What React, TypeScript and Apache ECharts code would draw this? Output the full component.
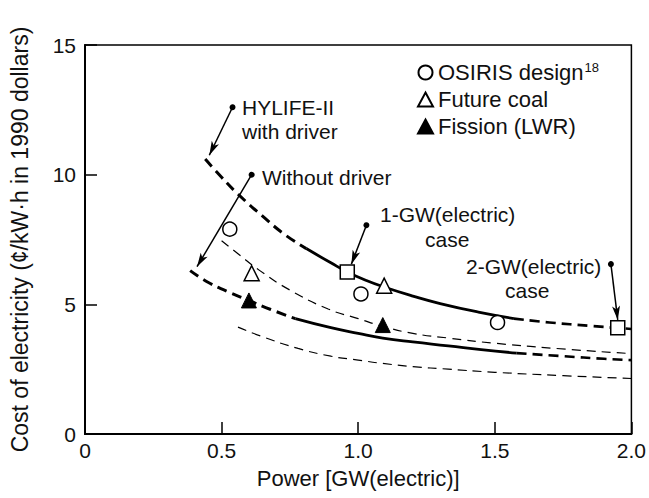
import React, { useEffect, useRef } from 'react';
import * as echarts from 'echarts';

const FONT = '"Liberation Sans", Arial, Helvetica, sans-serif';

// Axis ticks
const xTickLabels = ['0', '0.5', '1.0', '1.5', '2.0'];
const yTickLabels = ['0', '5', '10', '15'];

// HYLIFE-II with driver (upper bold curve)
const withDriverDashLeft = [[0.44, 10.6], [0.5, 9.9], [0.56, 9.25], [0.65, 8.4], [0.73, 7.7], [0.81, 7.15]];
const withDriverSolid = [[0.81, 7.15], [0.9, 6.6], [0.96, 6.25], [1.03, 5.92], [1.1, 5.65], [1.2, 5.32], [1.3, 5.03], [1.44, 4.7], [1.57, 4.45]];
const withDriverDashRight = [[1.57, 4.45], [1.7, 4.3], [1.85, 4.17], [2.0, 4.05]];

// HYLIFE-II without driver (lower bold curve)
const noDriverDashLeft = [[0.385, 6.3], [0.45, 5.85], [0.52, 5.5], [0.6, 5.15], [0.68, 4.8], [0.77, 4.45]];
const noDriverSolid = [[0.77, 4.45], [0.9, 4.1], [1.0, 3.88], [1.09, 3.7], [1.2, 3.55], [1.33, 3.4], [1.45, 3.25], [1.58, 3.12]];
const noDriverDashRight = [[1.58, 3.12], [1.75, 3.0], [1.9, 2.9], [2.0, 2.85]];

// Thin dashed curves
const thinUpper = [[0.5, 7.45], [0.56, 6.95], [0.64, 6.3], [0.75, 5.55], [0.89, 4.82], [1.0, 4.45], [1.09, 4.15], [1.2, 3.88], [1.33, 3.7], [1.5, 3.5], [1.76, 3.27], [2.0, 3.1]];
const thinLower = [[0.56, 4.12], [0.65, 3.75], [0.78, 3.3], [0.9, 3.0], [1.0, 2.85], [1.09, 2.72], [1.2, 2.6], [1.33, 2.5], [1.5, 2.38], [1.75, 2.25], [2.0, 2.14]];

// Marker points
const osirisPoints = [[0.53, 7.9], [1.01, 5.4], [1.51, 4.3]];
const futureCoalPoints = [[0.61, 6.2], [1.095, 5.72]];
const fissionPoints = [[0.6, 5.15], [1.09, 4.2]];
const casePoints = [[0.96, 6.25], [1.95, 4.1]];

// Annotation arrows: [from dot, to arrow tip]
const arrowHylife = [[0.54, 12.6], [0.455, 10.75]];
const arrowNoDriver = [[0.61, 10.0], [0.41, 6.45]];
const arrow1GW = [[1.03, 8.05], [0.975, 6.55]];
const arrow2GW = [[1.925, 6.55], [1.95, 4.4]];

const seriesNames = ['OSIRIS design', 'Future coal', 'Fission (LWR)'];

export default function App() {
  const ref = useRef<HTMLDivElement>(null);
  useEffect(() => {
    if (!ref.current) return;
    document.body.style.margin = '0';
    const chart = echarts.init(ref.current, null, { renderer: 'svg' });
    const bold = (data: number[][], dashed: boolean, width = 2.8) => ({
      type: 'line',
      data,
      smooth: true,
      symbol: 'none',
      silent: true,
      lineStyle: { color: '#000', width, type: dashed ? [10, 6] : 'solid' },
      z: 3,
    });
    const thin = (data: number[][]) => ({
      type: 'line',
      data,
      smooth: true,
      symbol: 'none',
      silent: true,
      lineStyle: { color: '#000', width: 1.2, type: [9, 6] },
      z: 3,
    });
    const openStyle = { color: '#fff', borderColor: '#000', borderWidth: 1.5, opacity: 1 };
    const arrowItem = (a: number[][]) => [{ coord: a[0] }, { coord: a[1] }];
    const text = (t: string, x: number, y: number) => ({
      type: 'text',
      x,
      y,
      silent: true,
      style: {
        text: t,
        fontSize: 21,
        fontFamily: FONT,
        fill: '#111',
        verticalAlign: 'middle',
        textVerticalAlign: 'middle',
      },
    });
    chart.setOption({
      animation: false,
      backgroundColor: '#fff',
      grid: {
        left: 80,
        right: 13,
        top: 45,
        bottom: 64,
        show: true,
        borderColor: '#000',
        borderWidth: 1.5,
      },
      legend: {
        data: seriesNames,
        orient: 'vertical',
        left: 412,
        top: 56,
        itemGap: 5,
        itemWidth: 15,
        itemHeight: 14,
        selectedMode: false,
        formatter: (n: string) => (n === 'OSIRIS design' ? 'OSIRIS design{sup|18}' : n),
        textStyle: {
          fontSize: 22,
          fontFamily: FONT,
          color: '#111',
          rich: { sup: { fontSize: 13, fontFamily: FONT, color: '#111', padding: [0, 0, 10, 1] } },
        },
      },
      xAxis: {
        type: 'value',
        min: 0,
        max: 2,
        interval: 0.5,
        name: 'Power [GW(electric)]',
        nameLocation: 'middle',
        nameGap: 33,
        nameTextStyle: { fontSize: 22, fontFamily: FONT, color: '#111' },
        axisLine: { lineStyle: { color: '#000', width: 2 } },
        axisTick: { inside: true, length: 12, lineStyle: { color: '#000', width: 1.5 } },
        axisLabel: {
          fontSize: 21,
          fontFamily: FONT,
          color: '#111',
          margin: 6,
          formatter: (v: number) => xTickLabels[Math.round(v / 0.5)],
        },
        splitLine: { show: false },
      },
      yAxis: {
        type: 'value',
        min: 0,
        max: 15,
        interval: 5,
        name: 'Cost of electricity (¢/kW·h in 1990 dollars)',
        nameLocation: 'middle',
        nameGap: 54,
        nameRotate: 90,
        nameTextStyle: { fontSize: 23, fontFamily: FONT, color: '#111' },
        axisLine: { show: true, lineStyle: { color: '#000', width: 2 } },
        axisTick: { inside: true, length: 12, lineStyle: { color: '#000', width: 1.5 } },
        axisLabel: {
          fontSize: 21,
          fontFamily: FONT,
          color: '#111',
          margin: 9,
          formatter: (v: number) => yTickLabels[Math.round(v / 5)],
        },
        splitLine: { show: false },
      },
      series: [
        bold(withDriverDashLeft, true, 3),
        bold(withDriverSolid, false, 2.8),
        bold(withDriverDashRight, true, 2.6),
        bold(noDriverDashLeft, true, 3),
        bold(noDriverSolid, false, 2.8),
        bold(noDriverDashRight, true, 2.6),
        thin(thinUpper),
        thin(thinLower),
        {
          name: 'OSIRIS design',
          type: 'scatter',
          data: osirisPoints,
          symbol: 'circle',
          symbolSize: 14,
          itemStyle: openStyle,
          z: 5,
        },
        {
          name: 'Future coal',
          type: 'scatter',
          data: futureCoalPoints,
          symbol: 'triangle',
          symbolSize: 15,
          itemStyle: openStyle,
          z: 5,
        },
        {
          name: 'Fission (LWR)',
          type: 'scatter',
          data: fissionPoints,
          symbol: 'triangle',
          symbolSize: 15,
          itemStyle: { color: '#000', borderColor: '#000', borderWidth: 1, opacity: 1 },
          z: 5,
        },
        {
          name: 'cases',
          type: 'scatter',
          data: casePoints,
          symbol: 'rect',
          symbolSize: 14,
          itemStyle: openStyle,
          z: 5,
        },
        {
          name: 'arrows',
          type: 'line',
          data: [],
          markLine: {
            silent: true,
            symbol: ['circle', 'arrow'],
            symbolSize: [6, 14],
            label: { show: false },
            lineStyle: { color: '#000', width: 1.5, type: 'solid', opacity: 1 },
            data: [arrowItem(arrowHylife), arrowItem(arrowNoDriver), arrowItem(arrow1GW), arrowItem(arrow2GW)],
          },
        },
      ],
      graphic: [
        text('HYLIFE-II', 242, 107),
        text('with driver', 242, 131),
        text('Without driver', 262, 177),
        text('1-GW(electric)', 380, 214),
        text('case', 425, 239),
        text('2-GW(electric)', 466, 266),
        text('case', 505, 290),
      ],
    });
    return () => chart.dispose();
  }, []);
  return <div ref={ref} style={{ width: 649, height: 498 }} />;
}
